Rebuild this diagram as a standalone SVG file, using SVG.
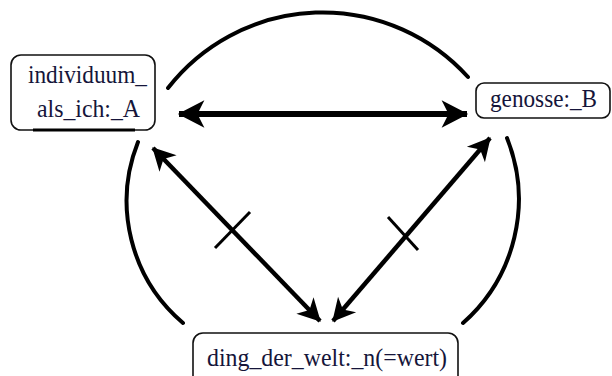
<svg xmlns="http://www.w3.org/2000/svg" width="612" height="376" viewBox="0 0 612 376">
<style>
.box{fill:#fff;stroke:#111;stroke-width:1.6}
.lbl{font-family:'Liberation Serif','Times New Roman',serif;font-size:25px;fill:#15153a}
.arc{fill:none;stroke:#000;stroke-width:4;stroke-linecap:round}
.big{stroke:#000;stroke-width:6;fill:none}
.diag{stroke:#000;stroke-width:4.5;fill:none}
.tick{stroke:#000;stroke-width:3;fill:none}
</style>
<defs>
<marker id="ahBig" markerUnits="userSpaceOnUse" markerWidth="30" markerHeight="30" viewBox="-24 -13 26 26" refX="0" refY="0" orient="auto-start-reverse">
<path d="M1,0 L-22,-12 L-16,0 L-22,12 Z" fill="#000"/>
</marker>
<marker id="ahSm" markerUnits="userSpaceOnUse" markerWidth="26" markerHeight="26" viewBox="-22 -12 24 24" refX="0" refY="0" orient="auto-start-reverse">
<path d="M1,0 L-20,-11 L-14,0 L-20,11 Z" fill="#000"/>
</marker>
</defs>
<g id="connectors">
<path class="arc" d="M168,88 A196,196 0 0 1 468,77"/>
<path class="arc" d="M138,142 A160,160 0 0 0 183,323"/>
<path class="arc" d="M507,138 A165,165 0 0 1 463,323"/>
<path class="big" d="M179,114 L467,114" marker-start="url(#ahBig)" marker-end="url(#ahBig)"/>
<path class="diag" d="M153,148 L320,321" marker-start="url(#ahSm)" marker-end="url(#ahSm)"/>
<path class="diag" d="M490,138 L333,321" marker-start="url(#ahSm)" marker-end="url(#ahSm)"/>
<path class="tick" d="M215,248 L250,212"/>
<path class="tick" d="M388,217 L418,250"/>
</g>
<g id="node-A">
<rect class="box" x="11" y="55" width="144" height="75" rx="10" ry="10"/>
<path d="M33,130 L135,130" stroke="#000" stroke-width="3"/>
<text class="lbl" x="28" y="83" textLength="119" lengthAdjust="spacingAndGlyphs">individuum_</text>
<text class="lbl" x="37" y="117" textLength="103" lengthAdjust="spacingAndGlyphs">als_ich:_A</text>
</g>
<g id="node-B">
<rect class="box" x="476" y="83" width="134" height="35" rx="8" ry="8"/>
<text class="lbl" x="490" y="107" textLength="107" lengthAdjust="spacingAndGlyphs">genosse:_B</text>
</g>
<g id="node-C">
<rect class="box" x="193" y="333" width="265" height="60" rx="10" ry="10"/>
<text class="lbl" x="207" y="366" textLength="240" lengthAdjust="spacingAndGlyphs">ding_der_welt:_n(=wert)</text>
</g>
</svg>
